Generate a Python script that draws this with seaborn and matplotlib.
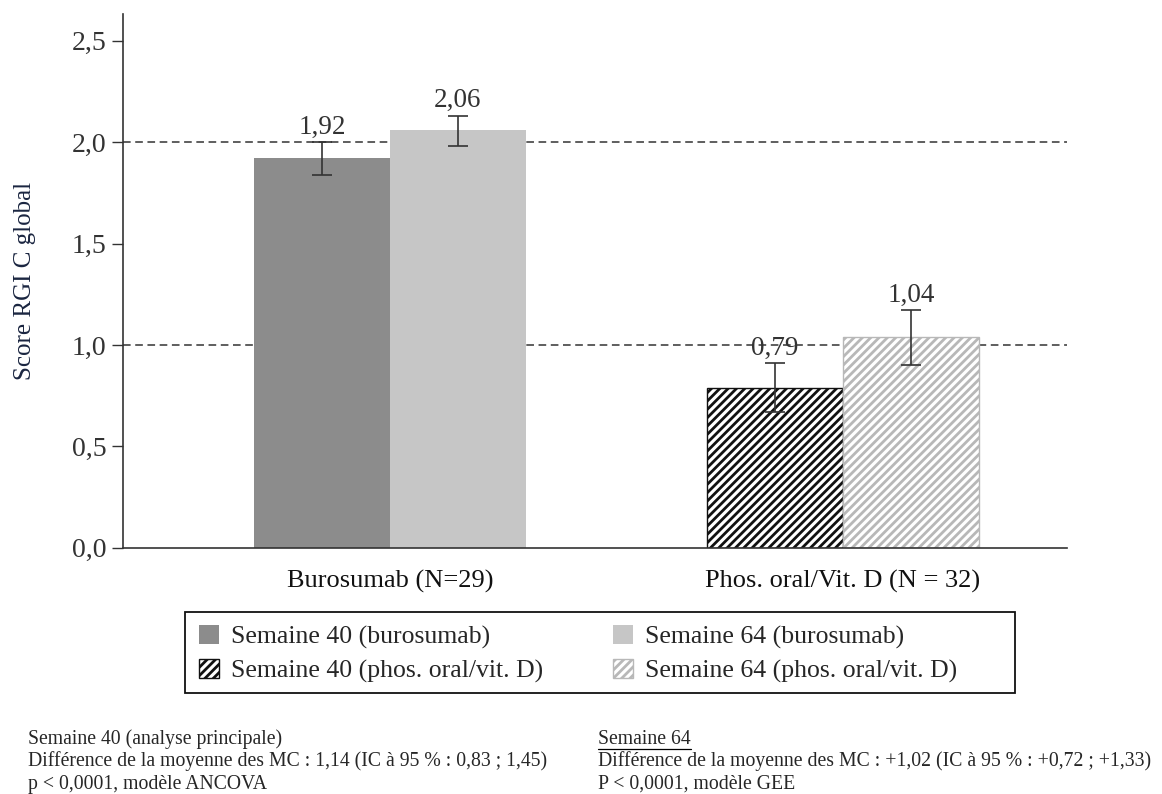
import matplotlib
matplotlib.use("Agg")
import matplotlib.pyplot as plt
import seaborn as sns
import pandas as pd
from matplotlib.patches import Patch, Rectangle
from matplotlib.ticker import FuncFormatter

sns.set_style("white")
plt.rcParams['font.family'] = ['Liberation Serif', 'DejaVu Serif']
plt.rcParams['hatch.linewidth'] = 2.0

groups = ["Burosumab (N=29)", "Phos. oral/Vit. D (N = 32)"]
weeks = ["Semaine 40", "Semaine 64"]
means = {"Semaine 40": [1.92, 0.79], "Semaine 64": [2.06, 1.04]}
err_low = {"Semaine 40": [1.84, 0.67], "Semaine 64": [1.98, 0.90]}
err_high = {"Semaine 40": [2.00, 0.91], "Semaine 64": [2.13, 1.17]}

legend_labels = ["Semaine 40 (burosumab)", "Semaine 64 (burosumab)",
                 "Semaine 40 (phos. oral/vit. D)", "Semaine 64 (phos. oral/vit. D)"]

note_left = ["Semaine 40 (analyse principale)",
             "Différence de la moyenne des MC : 1,14 (IC à 95 % : 0,83 ; 1,45)",
             "p < 0,0001, modèle ANCOVA"]
note_right = ["Semaine 64",
              "Différence de la moyenne des MC : +1,02 (IC à 95 % : +0,72 ; +1,33)",
              "P < 0,0001, modèle GEE"]

rows = []
for w in weeks:
    for i, g in enumerate(groups):
        rows.append({"groupe": g, "semaine": w, "score": means[w][i]})
df = pd.DataFrame(rows)

dark = "#8c8c8c"
light = "#c6c6c6"
hatch_dark = "#111111"
hatch_light = "#b8b8b8"
text_col = "#333333"

fig = plt.figure(figsize=(11.62, 7.94), dpi=100)
ax = fig.add_axes([0.106, 0.310, 0.812, 0.672])

ax.axhline(1.0, color="#333333", ls=(0, (5, 3)), lw=1.1, zorder=0)
ax.axhline(2.0, color="#333333", ls=(0, (5, 3)), lw=1.1, zorder=0)

sns.barplot(data=df, x="groupe", y="score", hue="semaine", order=groups,
            hue_order=weeks, palette=[dark, light], width=0.6, errorbar=None,
            saturation=1, legend=False, ax=ax, zorder=2)

for k, (w, cont) in enumerate(zip(weeks, ax.containers)):
    for i, bar in enumerate(cont):
        bar.set_linewidth(0)
        if i == 1:
            bar.set_facecolor("white")
            bar.set_hatch("////")
            bar.set_edgecolor(hatch_dark if k == 0 else hatch_light)
            bar.set_linewidth(1.0)
        cx = bar.get_x() + bar.get_width() / 2
        m = means[w][i]
        lo, hi = err_low[w][i], err_high[w][i]
        ax.errorbar(cx, m, yerr=[[m - lo], [hi - m]], fmt="none",
                    ecolor="#333333", elinewidth=1.2, capsize=7, capthick=1.2, zorder=3)
        ax.text(cx, hi + 0.012, f"{m:.2f}".replace(".", ","), ha="center", va="bottom",
                fontsize=19.5, color=text_col, zorder=4)

ax.set_xlim(-0.589, 1.494)
ax.set_ylim(0, 2.63)
ax.set_yticks([0, 0.5, 1.0, 1.5, 2.0, 2.5])
ax.yaxis.set_major_formatter(FuncFormatter(lambda v, p: f"{v:.1f}".replace(".", ",")))
ax.tick_params(axis="y", length=8, width=1, color="#333333", labelsize=20,
               labelcolor=text_col, left=True, direction="out", pad=4)
ax.tick_params(axis="x", length=0, labelsize=19, labelcolor="#111111", pad=16)
ax.set_xlabel("")
ax.set_ylabel("Score RGI C global", fontsize=18, color="#1a2540", labelpad=26)
sns.despine(ax=ax, top=True, right=True)
for s in ["left", "bottom"]:
    ax.spines[s].set_color("#333333")
    ax.spines[s].set_linewidth(1.2)

handles = [Patch(facecolor=dark, edgecolor="none"),
           Patch(facecolor=light, edgecolor="none"),
           Patch(facecolor="white", edgecolor=hatch_dark, hatch="////"),
           Patch(facecolor="white", edgecolor=hatch_light, hatch="////")]
order = [0, 2, 1, 3]
leg = fig.legend([handles[i] for i in order], [legend_labels[i] for i in order],
                 ncol=2, loc="upper left", bbox_to_anchor=(199 / 1162, 1 - 625 / 794),
                 frameon=False, fontsize=18.5, handlelength=0.78,
                 handleheight=0.78, handletextpad=0.45, columnspacing=2.75,
                 labelspacing=0.38, borderpad=0.0, borderaxespad=0.0)
fig.patches.append(Rectangle((185 / 1162, 1 - 693 / 794), 830 / 1162, 81 / 794,
                             transform=fig.transFigure, fill=False,
                             edgecolor="#111111", lw=1.3))

for j, line in enumerate(note_left):
    fig.text(0.024, 1 - (739 + 22.5 * j) / 794, line, fontsize=14.2, va="center", ha="left")
for j, line in enumerate(note_right):
    fig.text(0.515, 1 - (739 + 22.5 * j) / 794, line, fontsize=14.2, va="center", ha="left")
fig.lines.append(plt.Line2D([598 / 1162, 691 / 1162], [1 - 749 / 794, 1 - 749 / 794],
                            transform=fig.transFigure, color="black", lw=0.9))

fig.savefig("out.png", dpi=100)
